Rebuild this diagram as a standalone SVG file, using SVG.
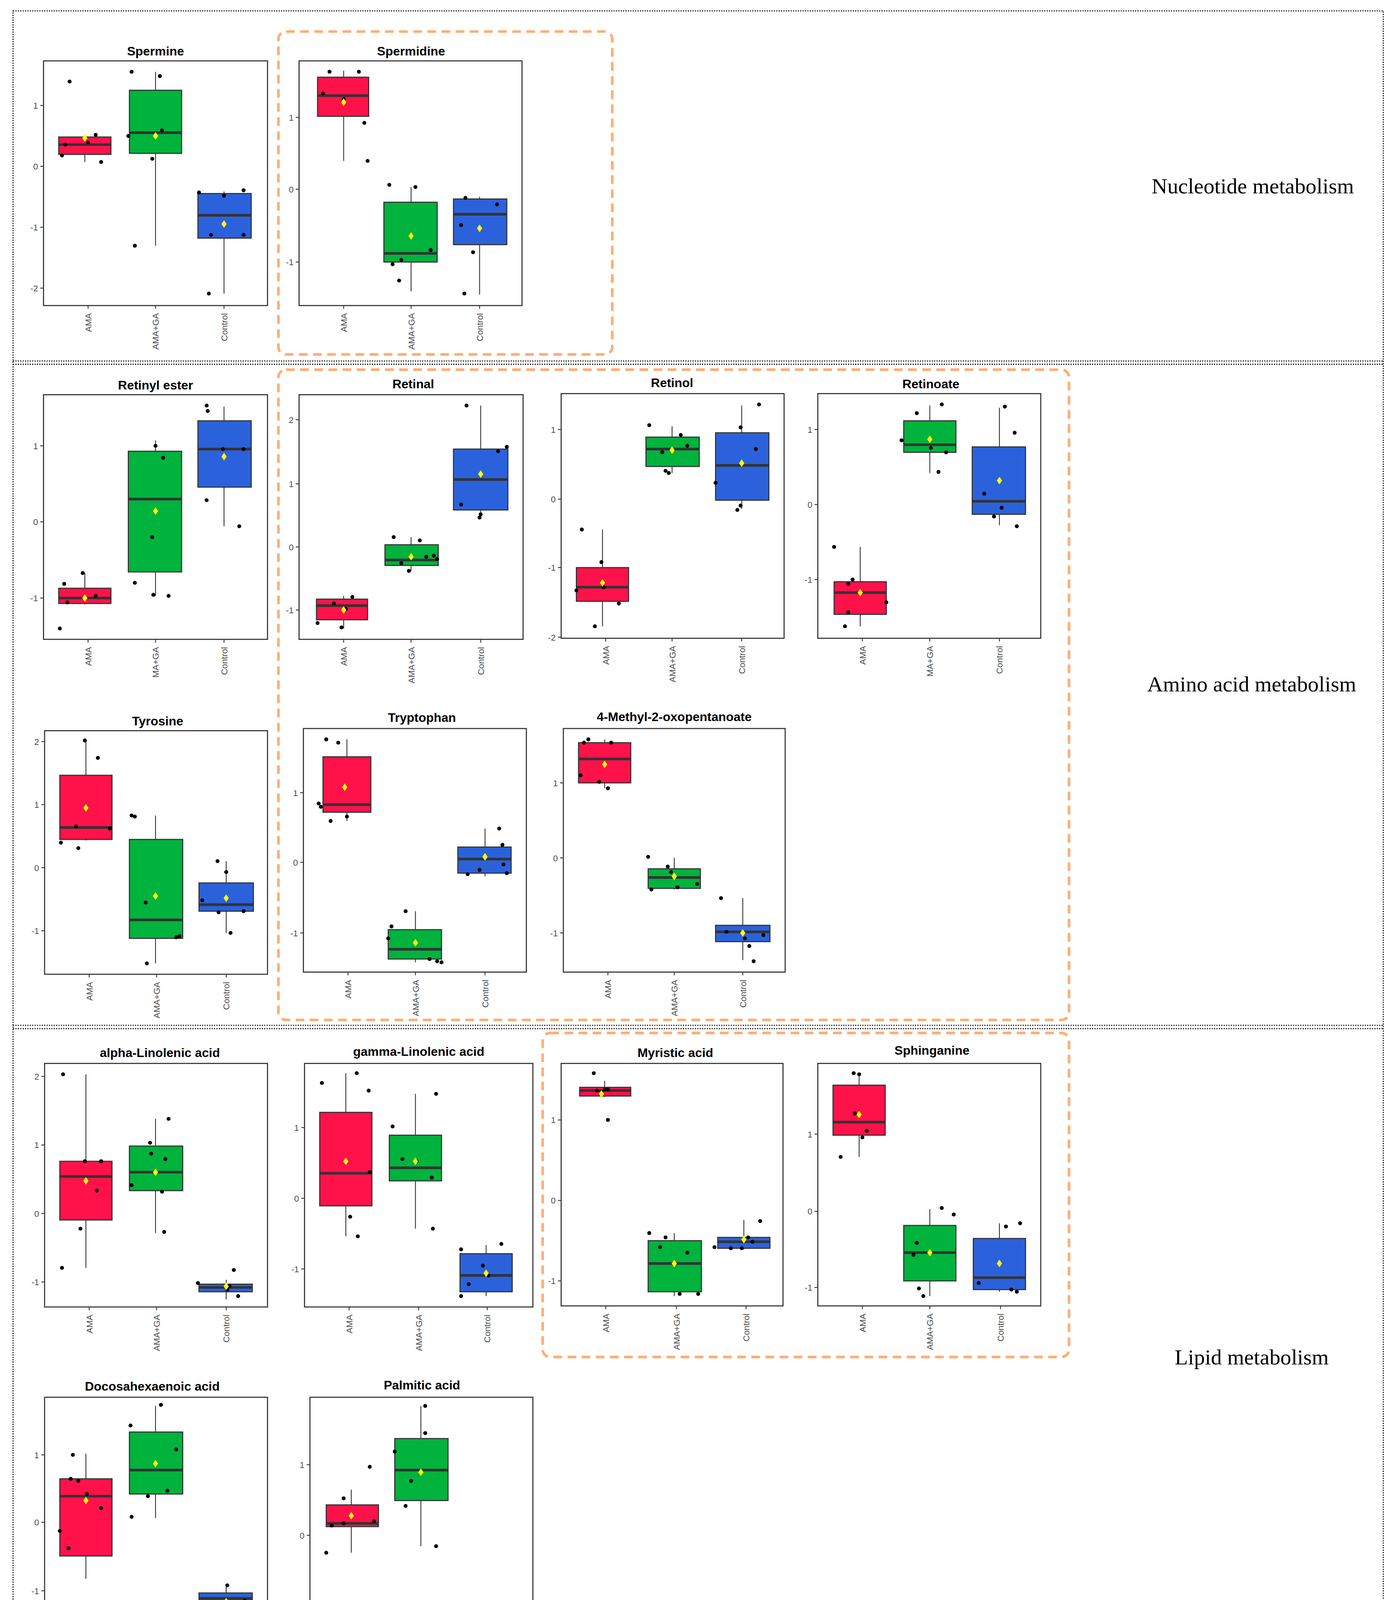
<svg xmlns="http://www.w3.org/2000/svg" xmlns:xlink="http://www.w3.org/1999/xlink" width="3563" height="4351" viewBox="0 0 3563 4351">
<style>
.fr{fill:none;stroke:#333;stroke-width:1}
.t{font-family:"Liberation Sans",Arial,sans-serif;font-weight:bold;font-size:11.5px;text-anchor:middle;fill:#000}
.tk{font-family:"Liberation Sans",Arial,sans-serif;font-size:8px;text-anchor:end;fill:#4d4d4d}
.xl{font-family:"Liberation Sans",Arial,sans-serif;font-size:8px;text-anchor:end;fill:#4d4d4d}
.sec{font-family:"Liberation Serif","Times New Roman",serif;font-size:20px;text-anchor:middle;fill:#000}
.r{fill:#FF124A;stroke:#333;stroke-width:1}
.g{fill:#00B33C;stroke:#333;stroke-width:1}
.b{fill:#2B62DB;stroke:#333;stroke-width:1}
.md{stroke:#333;stroke-width:2.4}
.wk{stroke:#333;stroke-width:0.8}
.tm{stroke:#333;stroke-width:0.8}
.dot{fill:none;stroke:#000;stroke-width:1;stroke-dasharray:1 1.2}
.or{fill:none;stroke:#FFAE73;stroke-width:2.4;stroke-dasharray:8 5}
</style>
<defs>
<circle id="p" r="1.8" fill="#000"/>
<path id="d" d="M0,-3.5L2.4,0L0,3.5L-2.4,0Z" fill="#FFFF00"/>
</defs>
<rect width="3563" height="4351" fill="#fff"/>
<g transform="scale(2.7836)">
<g id="frames">
<rect class="dot" x="12" y="10" width="1260" height="1544"/>
<line class="dot" x1="12" y1="332" x2="1272" y2="332"/><line class="dot" x1="12" y1="335" x2="1272" y2="335"/>
<line class="dot" x1="12" y1="943" x2="1272" y2="943"/><line class="dot" x1="12" y1="946" x2="1272" y2="946"/>
<rect class="or" x="256" y="29" width="307" height="297" rx="7"/>
<rect class="or" x="256" y="340" width="727" height="598" rx="7"/>
<rect class="or" x="499" y="950" width="484" height="298" rx="7"/>
<text class="sec" x="1152" y="178">Nucleotide metabolism</text>
<text class="sec" x="1151" y="636">Amino acid metabolism</text>
<text class="sec" x="1151" y="1255">Lipid metabolism</text>
</g>

<g id="spermine">
<text class="t" x="143" y="51">Spermine</text>
<rect class="fr" x="40" y="56" width="206" height="225"/>
<g class="tm"><line x1="37" y1="97" x2="40" y2="97"/><line x1="37" y1="153" x2="40" y2="153"/><line x1="37" y1="209" x2="40" y2="209"/><line x1="37" y1="265" x2="40" y2="265"/></g>
<text class="tk" x="35" y="100">1</text><text class="tk" x="35" y="156">0</text><text class="tk" x="35" y="212">-1</text><text class="tk" x="35" y="268">-2</text>
<line class="wk" x1="78" y1="125" x2="78" y2="149"/><rect class="r" x="54" y="126" width="48" height="16"/><line class="md" x1="54" y1="133" x2="102" y2="133"/>
<line class="wk" x1="143" y1="66" x2="143" y2="226"/><rect class="g" x="119" y="83" width="48" height="58"/><line class="md" x1="119" y1="122" x2="167" y2="122"/>
<line class="wk" x1="206" y1="176" x2="206" y2="270"/><rect class="b" x="182" y="178" width="49" height="41"/><line class="md" x1="182" y1="198" x2="231" y2="198"/>
<use href="#p" x="64" y="75"/><use href="#p" x="60" y="133"/><use href="#p" x="57" y="143"/><use href="#p" x="81" y="131"/><use href="#p" x="88" y="124"/><use href="#p" x="93" y="149"/>
<use href="#p" x="121" y="66"/><use href="#p" x="147" y="70"/><use href="#p" x="149" y="120"/><use href="#p" x="118" y="125"/><use href="#p" x="140" y="146"/><use href="#p" x="124" y="226"/>
<use href="#p" x="183" y="177"/><use href="#p" x="206" y="180"/><use href="#p" x="224" y="175"/><use href="#p" x="194" y="216"/><use href="#p" x="224" y="216"/><use href="#p" x="192" y="270"/>
<use href="#d" x="78" y="127"/><use href="#d" x="143" y="125"/><use href="#d" x="206" y="206"/>
<g class="tm"><line x1="81" y1="281" x2="81" y2="284"/><line x1="143" y1="281" x2="143" y2="284"/><line x1="206" y1="281" x2="206" y2="284"/></g>
<text class="xl" x="84" y="288" transform="rotate(-90 84 288)">AMA</text><text class="xl" x="146" y="288" transform="rotate(-90 146 288)">AMA+GA</text><text class="xl" x="209" y="288" transform="rotate(-90 209 288)">Control</text>
</g>

<g id="spermidine">
<text class="t" x="378" y="51">Spermidine</text>
<rect class="fr" x="275" y="56" width="205" height="225"/>
<g class="tm"><line x1="272" y1="108" x2="275" y2="108"/><line x1="272" y1="174" x2="275" y2="174"/><line x1="272" y1="241" x2="275" y2="241"/></g>
<text class="tk" x="270" y="111">1</text><text class="tk" x="270" y="177">0</text><text class="tk" x="270" y="244">-1</text>
<line class="wk" x1="316" y1="65" x2="316" y2="148"/><rect class="r" x="292" y="71" width="47" height="36"/><line class="md" x1="292" y1="88" x2="339" y2="88"/>
<line class="wk" x1="378" y1="172" x2="378" y2="268"/><rect class="g" x="353" y="186" width="49" height="55"/><line class="md" x1="353" y1="233" x2="402" y2="233"/>
<line class="wk" x1="441" y1="181" x2="441" y2="271"/><rect class="b" x="417" y="183" width="49" height="42"/><line class="md" x1="417" y1="197" x2="466" y2="197"/>
<use href="#p" x="297" y="86"/><use href="#p" x="303" y="66"/><use href="#p" x="316" y="91"/><use href="#p" x="330" y="66"/><use href="#p" x="335" y="113"/><use href="#p" x="338" y="148"/>
<use href="#p" x="358" y="170"/><use href="#p" x="382" y="172"/><use href="#p" x="361" y="243"/><use href="#p" x="369" y="239"/><use href="#p" x="367" y="258"/><use href="#p" x="396" y="230"/>
<use href="#p" x="428" y="182"/><use href="#p" x="457" y="188"/><use href="#p" x="424" y="207"/><use href="#p" x="435" y="232"/><use href="#p" x="427" y="270"/>
<use href="#d" x="316" y="94"/><use href="#d" x="378" y="217"/><use href="#d" x="441" y="210"/>
<g class="tm"><line x1="316" y1="281" x2="316" y2="284"/><line x1="378" y1="281" x2="378" y2="284"/><line x1="441" y1="281" x2="441" y2="284"/></g>
<text class="xl" x="319" y="288" transform="rotate(-90 319 288)">AMA</text><text class="xl" x="381" y="288" transform="rotate(-90 381 288)">AMA+GA</text><text class="xl" x="444" y="288" transform="rotate(-90 444 288)">Control</text>
</g>

<g id="retinyl-ester">
<text class="t" x="143" y="358">Retinyl ester</text>
<rect class="fr" x="40" y="363" width="206" height="225"/>
<g class="tm"><line x1="37" y1="410" x2="40" y2="410"/><line x1="37" y1="480" x2="40" y2="480"/><line x1="37" y1="550" x2="40" y2="550"/></g>
<text class="tk" x="35" y="413">1</text><text class="tk" x="35" y="483">0</text><text class="tk" x="35" y="553">-1</text>
<line class="wk" x1="78" y1="527" x2="78" y2="556"/><rect class="r" x="54" y="541" width="48" height="14"/><line class="md" x1="54" y1="550" x2="102" y2="550"/>
<line class="wk" x1="143" y1="405" x2="143" y2="548"/><rect class="g" x="118" y="415" width="49" height="111"/><line class="md" x1="118" y1="459" x2="167" y2="459"/>
<line class="wk" x1="206" y1="374" x2="206" y2="484"/><rect class="b" x="182" y="387" width="49" height="61"/><line class="md" x1="182" y1="413" x2="231" y2="413"/>
<use href="#p" x="59" y="537"/><use href="#p" x="62" y="554"/><use href="#p" x="76" y="527"/><use href="#p" x="55" y="578"/><use href="#p" x="88" y="548"/>
<use href="#p" x="124" y="536"/><use href="#p" x="140" y="494"/><use href="#p" x="143" y="410"/><use href="#p" x="150" y="421"/><use href="#p" x="155" y="548"/><use href="#p" x="141" y="547"/>
<use href="#p" x="190" y="373"/><use href="#p" x="191" y="378"/><use href="#p" x="205" y="413"/><use href="#p" x="224" y="413"/><use href="#p" x="190" y="460"/><use href="#p" x="220" y="484"/>
<use href="#d" x="78" y="550"/><use href="#d" x="143" y="470"/><use href="#d" x="206" y="420"/>
<g class="tm"><line x1="81" y1="588" x2="81" y2="591"/><line x1="143" y1="588" x2="143" y2="591"/><line x1="206" y1="588" x2="206" y2="591"/></g>
<text class="xl" x="84" y="595" transform="rotate(-90 84 595)">AMA</text><text class="xl" x="146" y="595" transform="rotate(-90 146 595)">MA+GA</text><text class="xl" x="209" y="595" transform="rotate(-90 209 595)">Control</text>
</g>

<g id="retinal">
<text class="t" x="380" y="357">Retinal</text>
<rect class="fr" x="275" y="363" width="206" height="225"/>
<g class="tm"><line x1="272" y1="386" x2="275" y2="386"/><line x1="272" y1="445" x2="275" y2="445"/><line x1="272" y1="503" x2="275" y2="503"/><line x1="272" y1="561" x2="275" y2="561"/></g>
<text class="tk" x="270" y="389">2</text><text class="tk" x="270" y="448">1</text><text class="tk" x="270" y="506">0</text><text class="tk" x="270" y="564">-1</text>
<line class="wk" x1="316" y1="548" x2="316" y2="578"/><rect class="r" x="291" y="551" width="47" height="19"/><line class="md" x1="291" y1="557" x2="338" y2="557"/>
<line class="wk" x1="378" y1="494" x2="378" y2="525"/><rect class="g" x="354" y="501" width="49" height="19"/><line class="md" x1="354" y1="515" x2="403" y2="515"/>
<line class="wk" x1="442" y1="373" x2="442" y2="477"/><rect class="b" x="417" y="413" width="50" height="56"/><line class="md" x1="417" y1="441" x2="467" y2="441"/>
<use href="#p" x="292" y="573"/><use href="#p" x="307" y="555"/><use href="#p" x="314" y="577"/><use href="#p" x="324" y="549"/><use href="#p" x="318" y="560"/>
<use href="#p" x="362" y="494"/><use href="#p" x="369" y="518"/><use href="#p" x="376" y="525"/><use href="#p" x="399" y="511"/><use href="#p" x="386" y="497"/><use href="#p" x="392" y="512"/><use href="#p" x="402" y="514"/>
<use href="#p" x="429" y="373"/><use href="#p" x="424" y="464"/><use href="#p" x="441" y="476"/><use href="#p" x="458" y="415"/><use href="#p" x="466" y="411"/><use href="#p" x="442" y="473"/>
<use href="#d" x="316" y="561"/><use href="#d" x="378" y="512"/><use href="#d" x="442" y="436"/>
<g class="tm"><line x1="316" y1="588" x2="316" y2="591"/><line x1="378" y1="588" x2="378" y2="591"/><line x1="442" y1="588" x2="442" y2="591"/></g>
<text class="xl" x="319" y="595" transform="rotate(-90 319 595)">AMA</text><text class="xl" x="381" y="595" transform="rotate(-90 381 595)">AMA+GA</text><text class="xl" x="445" y="595" transform="rotate(-90 445 595)">Control</text>
</g>

<g id="retinol">
<text class="t" x="618" y="356">Retinol</text>
<rect class="fr" x="516" y="362" width="205" height="225"/>
<g class="tm"><line x1="513" y1="395" x2="516" y2="395"/><line x1="513" y1="459" x2="516" y2="459"/><line x1="513" y1="522" x2="516" y2="522"/><line x1="513" y1="586" x2="516" y2="586"/></g>
<text class="tk" x="511" y="398">1</text><text class="tk" x="511" y="462">0</text><text class="tk" x="511" y="525">-1</text><text class="tk" x="511" y="589">-2</text>
<line class="wk" x1="554" y1="487" x2="554" y2="576"/><rect class="r" x="530" y="522" width="48" height="31"/><line class="md" x1="530" y1="540" x2="578" y2="540"/>
<line class="wk" x1="618" y1="392" x2="618" y2="435"/><rect class="g" x="594" y="402" width="49" height="27"/><line class="md" x1="594" y1="413" x2="643" y2="413"/>
<line class="wk" x1="682" y1="373" x2="682" y2="468"/><rect class="b" x="658" y="398" width="49" height="62"/><line class="md" x1="658" y1="428" x2="707" y2="428"/>
<use href="#p" x="535" y="487"/><use href="#p" x="553" y="517"/><use href="#p" x="530" y="543"/><use href="#p" x="569" y="555"/><use href="#p" x="547" y="576"/><use href="#p" x="555" y="540"/>
<use href="#p" x="597" y="391"/><use href="#p" x="626" y="400"/><use href="#p" x="632" y="410"/><use href="#p" x="609" y="416"/><use href="#p" x="612" y="433"/><use href="#p" x="615" y="435"/>
<use href="#p" x="698" y="372"/><use href="#p" x="681" y="393"/><use href="#p" x="695" y="413"/><use href="#p" x="658" y="444"/><use href="#p" x="681" y="465"/><use href="#p" x="678" y="469"/>
<use href="#d" x="554" y="536"/><use href="#d" x="618" y="414"/><use href="#d" x="682" y="426"/>
<g class="tm"><line x1="557" y1="587" x2="557" y2="590"/><line x1="618" y1="587" x2="618" y2="590"/><line x1="682" y1="587" x2="682" y2="590"/></g>
<text class="xl" x="560" y="594" transform="rotate(-90 560 594)">AMA</text><text class="xl" x="621" y="594" transform="rotate(-90 621 594)">AMA+GA</text><text class="xl" x="685" y="594" transform="rotate(-90 685 594)">Control</text>
</g>

<g id="retinoate">
<text class="t" x="856" y="357">Retinoate</text>
<rect class="fr" x="752" y="362" width="205" height="225"/>
<g class="tm"><line x1="749" y1="395" x2="752" y2="395"/><line x1="749" y1="464" x2="752" y2="464"/><line x1="749" y1="533" x2="752" y2="533"/></g>
<text class="tk" x="747" y="398">1</text><text class="tk" x="747" y="467">0</text><text class="tk" x="747" y="536">-1</text>
<line class="wk" x1="791" y1="503" x2="791" y2="576"/><rect class="r" x="767" y="535" width="48" height="30"/><line class="md" x1="767" y1="545" x2="815" y2="545"/>
<line class="wk" x1="855" y1="373" x2="855" y2="435"/><rect class="g" x="831" y="387" width="48" height="29"/><line class="md" x1="831" y1="409" x2="879" y2="409"/>
<line class="wk" x1="919" y1="375" x2="919" y2="483"/><rect class="b" x="894" y="411" width="49" height="62"/><line class="md" x1="894" y1="461" x2="943" y2="461"/>
<use href="#p" x="767" y="503"/><use href="#p" x="780" y="537"/><use href="#p" x="784" y="533"/><use href="#p" x="815" y="554"/><use href="#p" x="780" y="563"/><use href="#p" x="777" y="576"/>
<use href="#p" x="866" y="372"/><use href="#p" x="843" y="380"/><use href="#p" x="829" y="405"/><use href="#p" x="856" y="412"/><use href="#p" x="870" y="416"/><use href="#p" x="863" y="434"/>
<use href="#p" x="924" y="374"/><use href="#p" x="933" y="398"/><use href="#p" x="905" y="454"/><use href="#p" x="921" y="467"/><use href="#p" x="914" y="475"/><use href="#p" x="935" y="484"/>
<use href="#d" x="791" y="545"/><use href="#d" x="855" y="404"/><use href="#d" x="919" y="442"/>
<g class="tm"><line x1="793" y1="587" x2="793" y2="590"/><line x1="855" y1="587" x2="855" y2="590"/><line x1="919" y1="587" x2="919" y2="590"/></g>
<text class="xl" x="796" y="594" transform="rotate(-90 796 594)">AMA</text><text class="xl" x="858" y="594" transform="rotate(-90 858 594)">MA+GA</text><text class="xl" x="922" y="594" transform="rotate(-90 922 594)">Control</text>
</g>

<g id="tyrosine">
<text class="t" x="145" y="667">Tyrosine</text>
<rect class="fr" x="41" y="672" width="205" height="224"/>
<g class="tm"><line x1="38" y1="682" x2="41" y2="682"/><line x1="38" y1="740" x2="41" y2="740"/><line x1="38" y1="798" x2="41" y2="798"/><line x1="38" y1="856" x2="41" y2="856"/></g>
<text class="tk" x="36" y="685">2</text><text class="tk" x="36" y="743">1</text><text class="tk" x="36" y="801">0</text><text class="tk" x="36" y="859">-1</text>
<line class="wk" x1="79" y1="680" x2="79" y2="773"/><rect class="r" x="55" y="713" width="48" height="59"/><line class="md" x1="55" y1="761" x2="103" y2="761"/>
<line class="wk" x1="143" y1="750" x2="143" y2="886"/><rect class="g" x="119" y="772" width="49" height="91"/><line class="md" x1="119" y1="846" x2="168" y2="846"/>
<line class="wk" x1="208" y1="792" x2="208" y2="858"/><rect class="b" x="183" y="812" width="50" height="26"/><line class="md" x1="183" y1="832" x2="233" y2="832"/>
<use href="#p" x="78" y="681"/><use href="#p" x="90" y="697"/><use href="#p" x="56" y="775"/><use href="#p" x="70" y="760"/><use href="#p" x="72" y="780"/><use href="#p" x="101" y="762"/>
<use href="#p" x="121" y="750"/><use href="#p" x="124" y="751"/><use href="#p" x="134" y="830"/><use href="#p" x="162" y="862"/><use href="#p" x="165" y="861"/><use href="#p" x="135" y="886"/>
<use href="#p" x="200" y="792"/><use href="#p" x="186" y="828"/><use href="#p" x="208" y="802"/><use href="#p" x="201" y="839"/><use href="#p" x="224" y="838"/><use href="#p" x="212" y="858"/>
<use href="#d" x="79" y="743"/><use href="#d" x="143" y="824"/><use href="#d" x="208" y="826"/>
<g class="tm"><line x1="82" y1="896" x2="82" y2="899"/><line x1="144" y1="896" x2="144" y2="899"/><line x1="208" y1="896" x2="208" y2="899"/></g>
<text class="xl" x="85" y="903" transform="rotate(-90 85 903)">AMA</text><text class="xl" x="147" y="903" transform="rotate(-90 147 903)">AMA+GA</text><text class="xl" x="211" y="903" transform="rotate(-90 211 903)">Control</text>
</g>

<g id="tryptophan">
<text class="t" x="388" y="664">Tryptophan</text>
<rect class="fr" x="279" y="670" width="205" height="224"/>
<g class="tm"><line x1="276" y1="729" x2="279" y2="729"/><line x1="276" y1="793" x2="279" y2="793"/><line x1="276" y1="858" x2="279" y2="858"/></g>
<text class="tk" x="274" y="732">1</text><text class="tk" x="274" y="796">0</text><text class="tk" x="274" y="861">-1</text>
<line class="wk" x1="319" y1="680" x2="319" y2="755"/><rect class="r" x="297" y="696" width="44" height="51"/><line class="md" x1="297" y1="740" x2="341" y2="740"/>
<line class="wk" x1="382" y1="838" x2="382" y2="885"/><rect class="g" x="357" y="855" width="49" height="27"/><line class="md" x1="357" y1="873" x2="406" y2="873"/>
<line class="wk" x1="446" y1="762" x2="446" y2="806"/><rect class="b" x="421" y="779" width="49" height="24"/><line class="md" x1="421" y1="790" x2="470" y2="790"/>
<use href="#p" x="300" y="680"/><use href="#p" x="311" y="683"/><use href="#p" x="293" y="739"/><use href="#p" x="295" y="742"/><use href="#p" x="304" y="755"/><use href="#p" x="319" y="751"/>
<use href="#p" x="373" y="838"/><use href="#p" x="360" y="852"/><use href="#p" x="357" y="863"/><use href="#p" x="395" y="882"/><use href="#p" x="402" y="884"/><use href="#p" x="406" y="885"/>
<use href="#p" x="459" y="762"/><use href="#p" x="462" y="777"/><use href="#p" x="463" y="795"/><use href="#p" x="441" y="800"/><use href="#p" x="466" y="803"/><use href="#p" x="430" y="804"/>
<use href="#d" x="317" y="724"/><use href="#d" x="382" y="867"/><use href="#d" x="446" y="788"/>
<g class="tm"><line x1="320" y1="894" x2="320" y2="897"/><line x1="382" y1="894" x2="382" y2="897"/><line x1="446" y1="894" x2="446" y2="897"/></g>
<text class="xl" x="323" y="901" transform="rotate(-90 323 901)">AMA</text><text class="xl" x="385" y="901" transform="rotate(-90 385 901)">AMA+GA</text><text class="xl" x="449" y="901" transform="rotate(-90 449 901)">Control</text>
</g>

<g id="methyl-oxopentanoate">
<text class="t" x="620" y="663">4-Methyl-2-oxopentanoate</text>
<rect class="fr" x="518" y="670" width="204" height="224"/>
<g class="tm"><line x1="515" y1="720" x2="518" y2="720"/><line x1="515" y1="789" x2="518" y2="789"/><line x1="515" y1="858" x2="518" y2="858"/></g>
<text class="tk" x="513" y="723">1</text><text class="tk" x="513" y="792">0</text><text class="tk" x="513" y="861">-1</text>
<line class="wk" x1="556" y1="680" x2="556" y2="725"/><rect class="r" x="532" y="683" width="48" height="37"/><line class="md" x1="532" y1="698" x2="580" y2="698"/>
<line class="wk" x1="620" y1="789" x2="620" y2="818"/><rect class="g" x="596" y="799" width="48" height="18"/><line class="md" x1="596" y1="807" x2="644" y2="807"/>
<line class="wk" x1="683" y1="826" x2="683" y2="883"/><rect class="b" x="658" y="851" width="50" height="15"/><line class="md" x1="658" y1="857" x2="708" y2="857"/>
<use href="#p" x="534" y="713"/><use href="#p" x="537" y="683"/><use href="#p" x="541" y="680"/><use href="#p" x="559" y="725"/><use href="#p" x="562" y="683"/><use href="#p" x="551" y="719"/>
<use href="#p" x="596" y="788"/><use href="#p" x="599" y="818"/><use href="#p" x="614" y="797"/><use href="#p" x="617" y="802"/><use href="#p" x="623" y="816"/><use href="#p" x="641" y="813"/>
<use href="#p" x="663" y="826"/><use href="#p" x="668" y="857"/><use href="#p" x="685" y="863"/><use href="#p" x="689" y="870"/><use href="#p" x="693" y="884"/><use href="#p" x="702" y="860"/>
<use href="#d" x="556" y="703"/><use href="#d" x="620" y="806"/><use href="#d" x="683" y="858"/>
<g class="tm"><line x1="559" y1="894" x2="559" y2="897"/><line x1="620" y1="894" x2="620" y2="897"/><line x1="683" y1="894" x2="683" y2="897"/></g>
<text class="xl" x="562" y="901" transform="rotate(-90 562 901)">AMA</text><text class="xl" x="623" y="901" transform="rotate(-90 623 901)">AMA+GA</text><text class="xl" x="686" y="901" transform="rotate(-90 686 901)">Control</text>
</g>

<g id="alpha-linolenic">
<text class="t" x="147" y="972">alpha-Linolenic acid</text>
<rect class="fr" x="41" y="978" width="205" height="224"/>
<g class="tm"><line x1="38" y1="990" x2="41" y2="990"/><line x1="38" y1="1053" x2="41" y2="1053"/><line x1="38" y1="1116" x2="41" y2="1116"/><line x1="38" y1="1179" x2="41" y2="1179"/></g>
<text class="tk" x="36" y="993">2</text><text class="tk" x="36" y="1056">1</text><text class="tk" x="36" y="1119">0</text><text class="tk" x="36" y="1182">-1</text>
<line class="wk" x1="79" y1="988" x2="79" y2="1166"/><rect class="r" x="55" y="1068" width="48" height="54"/><line class="md" x1="55" y1="1082" x2="103" y2="1082"/>
<line class="wk" x1="143" y1="1029" x2="143" y2="1134"/><rect class="g" x="119" y="1054" width="49" height="41"/><line class="md" x1="119" y1="1078" x2="168" y2="1078"/>
<line class="wk" x1="208" y1="1177" x2="208" y2="1195"/><rect class="b" x="183" y="1181" width="49" height="7"/><line class="md" x1="183" y1="1184" x2="232" y2="1184"/>
<use href="#p" x="58" y="988"/><use href="#p" x="57" y="1166"/><use href="#p" x="74" y="1130"/><use href="#p" x="89" y="1095"/><use href="#p" x="93" y="1068"/><use href="#p" x="78" y="1068"/>
<use href="#p" x="121" y="1090"/><use href="#p" x="138" y="1051"/><use href="#p" x="139" y="1061"/><use href="#p" x="149" y="1096"/><use href="#p" x="151" y="1133"/><use href="#p" x="155" y="1029"/><use href="#p" x="152" y="1066"/>
<use href="#p" x="182" y="1180"/><use href="#p" x="215" y="1168"/><use href="#p" x="219" y="1192"/><use href="#p" x="209" y="1186"/><use href="#p" x="211" y="1183"/>
<use href="#d" x="79" y="1086"/><use href="#d" x="143" y="1078"/><use href="#d" x="208" y="1183"/>
<g class="tm"><line x1="82" y1="1202" x2="82" y2="1205"/><line x1="144" y1="1202" x2="144" y2="1205"/><line x1="208" y1="1202" x2="208" y2="1205"/></g>
<text class="xl" x="85" y="1209" transform="rotate(-90 85 1209)">AMA</text><text class="xl" x="147" y="1209" transform="rotate(-90 147 1209)">AMA+GA</text><text class="xl" x="211" y="1209" transform="rotate(-90 211 1209)">Control</text>
</g>

<g id="gamma-linolenic">
<text class="t" x="385" y="971">gamma-Linolenic acid</text>
<rect class="fr" x="280" y="978" width="210" height="224"/>
<g class="tm"><line x1="277" y1="1037" x2="280" y2="1037"/><line x1="277" y1="1102" x2="280" y2="1102"/><line x1="277" y1="1167" x2="280" y2="1167"/></g>
<text class="tk" x="275" y="1040">1</text><text class="tk" x="275" y="1105">0</text><text class="tk" x="275" y="1170">-1</text>
<line class="wk" x1="318" y1="987" x2="318" y2="1137"/><rect class="r" x="294" y="1023" width="48" height="86"/><line class="md" x1="294" y1="1079" x2="342" y2="1079"/>
<line class="wk" x1="382" y1="1006" x2="382" y2="1130"/><rect class="g" x="358" y="1044" width="48" height="42"/><line class="md" x1="358" y1="1074" x2="406" y2="1074"/>
<line class="wk" x1="447" y1="1145" x2="447" y2="1192"/><rect class="b" x="423" y="1153" width="48" height="35"/><line class="md" x1="423" y1="1173" x2="471" y2="1173"/>
<use href="#p" x="296" y="996"/><use href="#p" x="322" y="1119"/><use href="#p" x="329" y="1137"/><use href="#p" x="328" y="987"/><use href="#p" x="339" y="1003"/><use href="#p" x="340" y="1078"/>
<use href="#p" x="361" y="1036"/><use href="#p" x="370" y="1066"/><use href="#p" x="383" y="1068"/><use href="#p" x="397" y="1083"/><use href="#p" x="398" y="1130"/><use href="#p" x="401" y="1006"/>
<use href="#p" x="424" y="1149"/><use href="#p" x="424" y="1192"/><use href="#p" x="444" y="1164"/><use href="#p" x="449" y="1173"/><use href="#p" x="461" y="1144"/><use href="#p" x="431" y="1181"/>
<use href="#d" x="318" y="1068"/><use href="#d" x="382" y="1068"/><use href="#d" x="447" y="1171"/>
<g class="tm"><line x1="321" y1="1202" x2="321" y2="1205"/><line x1="385" y1="1202" x2="385" y2="1205"/><line x1="448" y1="1202" x2="448" y2="1205"/></g>
<text class="xl" x="324" y="1209" transform="rotate(-90 324 1209)">AMA</text><text class="xl" x="388" y="1209" transform="rotate(-90 388 1209)">AMA+GA</text><text class="xl" x="451" y="1209" transform="rotate(-90 451 1209)">Control</text>
</g>

<g id="myristic">
<text class="t" x="621" y="972">Myristic acid</text>
<rect class="fr" x="516" y="978" width="204" height="223"/>
<g class="tm"><line x1="513" y1="1030" x2="516" y2="1030"/><line x1="513" y1="1104" x2="516" y2="1104"/><line x1="513" y1="1178" x2="516" y2="1178"/></g>
<text class="tk" x="511" y="1033">1</text><text class="tk" x="511" y="1107">0</text><text class="tk" x="511" y="1181">-1</text>
<line class="wk" x1="556" y1="994" x2="556" y2="1009"/><rect class="r" x="533" y="1000" width="47" height="8"/><line class="md" x1="533" y1="1003" x2="580" y2="1003"/>
<line class="wk" x1="620" y1="1134" x2="620" y2="1192"/><rect class="g" x="596" y="1141" width="49" height="47"/><line class="md" x1="596" y1="1162" x2="645" y2="1162"/>
<line class="wk" x1="684" y1="1122" x2="684" y2="1149"/><rect class="b" x="660" y="1138" width="48" height="10"/><line class="md" x1="660" y1="1142" x2="708" y2="1142"/>
<use href="#p" x="546" y="987"/><use href="#p" x="559" y="1030"/><use href="#p" x="549" y="1003"/><use href="#p" x="556" y="1002"/><use href="#p" x="553" y="1004"/><use href="#p" x="559" y="1002"/>
<use href="#p" x="597" y="1134"/><use href="#p" x="607" y="1147"/><use href="#p" x="612" y="1138"/><use href="#p" x="625" y="1190"/><use href="#p" x="632" y="1152"/><use href="#p" x="642" y="1190"/>
<use href="#p" x="657" y="1147"/><use href="#p" x="672" y="1148"/><use href="#p" x="682" y="1148"/><use href="#p" x="688" y="1138"/><use href="#p" x="699" y="1123"/><use href="#p" x="692" y="1142"/>
<use href="#d" x="553" y="1006"/><use href="#d" x="620" y="1162"/><use href="#d" x="684" y="1140"/>
<g class="tm"><line x1="557" y1="1201" x2="557" y2="1204"/><line x1="622" y1="1201" x2="622" y2="1204"/><line x1="686" y1="1201" x2="686" y2="1204"/></g>
<text class="xl" x="560" y="1208" transform="rotate(-90 560 1208)">AMA</text><text class="xl" x="625" y="1208" transform="rotate(-90 625 1208)">AMA+GA</text><text class="xl" x="689" y="1208" transform="rotate(-90 689 1208)">Control</text>
</g>

<g id="sphinganine">
<text class="t" x="857" y="970">Sphinganine</text>
<rect class="fr" x="752" y="978" width="205" height="223"/>
<g class="tm"><line x1="749" y1="1043" x2="752" y2="1043"/><line x1="749" y1="1114" x2="752" y2="1114"/><line x1="749" y1="1184" x2="752" y2="1184"/></g>
<text class="tk" x="747" y="1046">1</text><text class="tk" x="747" y="1117">0</text><text class="tk" x="747" y="1187">-1</text>
<line class="wk" x1="790" y1="988" x2="790" y2="1064"/><rect class="r" x="766" y="998" width="48" height="46"/><line class="md" x1="766" y1="1032" x2="814" y2="1032"/>
<line class="wk" x1="855" y1="1112" x2="855" y2="1192"/><rect class="g" x="831" y="1127" width="48" height="51"/><line class="md" x1="831" y1="1152" x2="879" y2="1152"/>
<line class="wk" x1="919" y1="1125" x2="919" y2="1188"/><rect class="b" x="895" y="1139" width="48" height="47"/><line class="md" x1="895" y1="1175" x2="943" y2="1175"/>
<use href="#p" x="773" y="1064"/><use href="#p" x="785" y="987"/><use href="#p" x="790" y="988"/><use href="#p" x="793" y="1046"/><use href="#p" x="786" y="1024"/><use href="#p" x="797" y="1040"/>
<use href="#p" x="840" y="1154"/><use href="#p" x="843" y="1143"/><use href="#p" x="845" y="1185"/><use href="#p" x="849" y="1192"/><use href="#p" x="866" y="1111"/><use href="#p" x="877" y="1117"/>
<use href="#p" x="900" y="1180"/><use href="#p" x="935" y="1188"/><use href="#p" x="925" y="1128"/><use href="#p" x="938" y="1125"/><use href="#p" x="930" y="1186"/>
<use href="#d" x="790" y="1025"/><use href="#d" x="855" y="1152"/><use href="#d" x="919" y="1162"/>
<g class="tm"><line x1="793" y1="1201" x2="793" y2="1204"/><line x1="855" y1="1201" x2="855" y2="1204"/><line x1="920" y1="1201" x2="920" y2="1204"/></g>
<text class="xl" x="796" y="1208" transform="rotate(-90 796 1208)">AMA</text><text class="xl" x="858" y="1208" transform="rotate(-90 858 1208)">AMA+GA</text><text class="xl" x="923" y="1208" transform="rotate(-90 923 1208)">Control</text>
</g>

<g id="docosahexaenoic">
<text class="t" x="140" y="1279">Docosahexaenoic acid</text>
<rect class="fr" x="41" y="1285" width="205" height="224"/>
<g class="tm"><line x1="38" y1="1338" x2="41" y2="1338"/><line x1="38" y1="1400" x2="41" y2="1400"/><line x1="38" y1="1463" x2="41" y2="1463"/></g>
<text class="tk" x="36" y="1341">1</text><text class="tk" x="36" y="1403">0</text><text class="tk" x="36" y="1466">-1</text>
<line class="wk" x1="79" y1="1337" x2="79" y2="1452"/><rect class="r" x="55" y="1360" width="48" height="71"/><line class="md" x1="55" y1="1376" x2="103" y2="1376"/>
<line class="wk" x1="143" y1="1293" x2="143" y2="1396"/><rect class="g" x="119" y="1317" width="49" height="57"/><line class="md" x1="119" y1="1352" x2="168" y2="1352"/>
<line class="wk" x1="208" y1="1457" x2="208" y2="1485"/><rect class="b" x="183" y="1465" width="49" height="12"/><line class="md" x1="183" y1="1470" x2="232" y2="1470"/>
<use href="#p" x="55" y="1408"/><use href="#p" x="63" y="1424"/><use href="#p" x="65" y="1360"/><use href="#p" x="67" y="1338"/><use href="#p" x="72" y="1362"/><use href="#p" x="80" y="1374"/><use href="#p" x="93" y="1387"/>
<use href="#p" x="120" y="1311"/><use href="#p" x="148" y="1292"/><use href="#p" x="162" y="1333"/><use href="#p" x="154" y="1371"/><use href="#p" x="136" y="1376"/><use href="#p" x="121" y="1395"/>
<use href="#p" x="209" y="1458"/><use href="#p" x="217" y="1474"/><use href="#p" x="197" y="1478"/><use href="#p" x="225" y="1472"/><use href="#p" x="221" y="1485"/><use href="#p" x="219" y="1499"/>
<use href="#d" x="79" y="1380"/><use href="#d" x="143" y="1346"/><use href="#d" x="208" y="1473"/>
<g class="tm"><line x1="82" y1="1509" x2="82" y2="1512"/><line x1="144" y1="1509" x2="144" y2="1512"/><line x1="208" y1="1509" x2="208" y2="1512"/></g>
<text class="xl" x="85" y="1516" transform="rotate(-90 85 1516)">AMA</text><text class="xl" x="147" y="1516" transform="rotate(-90 147 1516)">AMA+GA</text><text class="xl" x="211" y="1516" transform="rotate(-90 211 1516)">Control</text>
</g>

<g id="palmitic">
<text class="t" x="388" y="1278">Palmitic acid</text>
<rect class="fr" x="285" y="1285" width="205" height="224"/>
<g class="tm"><line x1="282" y1="1347" x2="285" y2="1347"/><line x1="282" y1="1412" x2="285" y2="1412"/><line x1="282" y1="1478" x2="285" y2="1478"/></g>
<text class="tk" x="280" y="1350">1</text><text class="tk" x="280" y="1415">0</text><text class="tk" x="280" y="1481">-1</text>
<line class="wk" x1="323" y1="1370" x2="323" y2="1428"/><rect class="r" x="300" y="1384" width="48" height="20"/><line class="md" x1="300" y1="1401" x2="348" y2="1401"/>
<line class="wk" x1="387" y1="1293" x2="387" y2="1422"/><rect class="g" x="363" y="1323" width="49" height="57"/><line class="md" x1="363" y1="1352" x2="412" y2="1352"/>
<line class="wk" x1="452" y1="1475" x2="452" y2="1500"/><rect class="b" x="428" y="1480" width="48" height="18"/><line class="md" x1="428" y1="1490" x2="476" y2="1490"/>
<use href="#p" x="300" y="1428"/><use href="#p" x="305" y="1403"/><use href="#p" x="316" y="1401"/><use href="#p" x="316" y="1378"/><use href="#p" x="340" y="1349"/><use href="#p" x="344" y="1399"/>
<use href="#p" x="363" y="1335"/><use href="#p" x="373" y="1385"/><use href="#p" x="378" y="1362"/><use href="#p" x="391" y="1318"/><use href="#p" x="391" y="1293"/><use href="#p" x="401" y="1422"/>
<use href="#p" x="449" y="1479"/><use href="#p" x="450" y="1475"/><use href="#p" x="455" y="1498"/><use href="#p" x="460" y="1496"/><use href="#p" x="468" y="1497"/><use href="#p" x="462" y="1485"/>
<use href="#d" x="323" y="1394"/><use href="#d" x="387" y="1354"/><use href="#d" x="452" y="1488"/>
<g class="tm"><line x1="326" y1="1509" x2="326" y2="1512"/><line x1="388" y1="1509" x2="388" y2="1512"/><line x1="452" y1="1509" x2="452" y2="1512"/></g>
<text class="xl" x="329" y="1516" transform="rotate(-90 329 1516)">AMA</text><text class="xl" x="391" y="1516" transform="rotate(-90 391 1516)">AMA+GA</text><text class="xl" x="455" y="1516" transform="rotate(-90 455 1516)">Control</text>
</g>
</g>
</svg>
